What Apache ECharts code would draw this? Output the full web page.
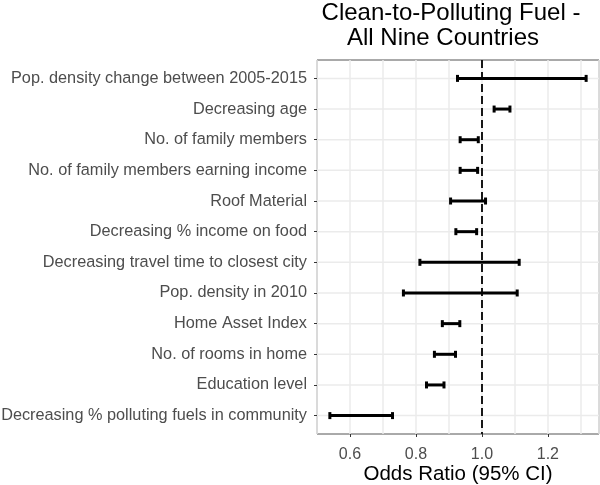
<!DOCTYPE html>
<html>
<head>
<meta charset="utf-8">
<script src="https://cdn.jsdelivr.net/npm/echarts@6/dist/echarts.min.js"></script>
<style>html,body{margin:0;padding:0;background:#fff;}#c{width:600px;height:485px;}</style>
</head>
<body>
<div id="c"></div>
<script>
var categories = [
  "Pop. density change between 2005-2015",
  "Decreasing age",
  "No. of family members",
  "No. of family members earning income",
  "Roof Material",
  "Decreasing % income on food",
  "Decreasing travel time to closest city",
  "Pop. density in 2010",
  "Home Asset Index",
  "No. of rooms in home",
  "Education level",
  "Decreasing % polluting fuels in community"
];
var lowerCI = [0.926, 1.037, 0.934, 0.934, 0.905, 0.921, 0.812, 0.762, 0.880, 0.856, 0.832, 0.539];
var upperCI = [1.316, 1.085, 0.989, 0.987, 1.011, 0.984, 1.113, 1.107, 0.933, 0.920, 0.885, 0.729];
var xTicks = [0.6, 0.8, 1.0, 1.2];
var referenceLine = 1.0;
var titleLine1 = "Clean-to-Polluting Fuel -";
var titleLine2 = "All Nine Countries";
var xAxisTitle = "Odds Ratio (95% CI)";

var rowIdx = categories.map(function (c, i) { return i; });
var data = categories.map(function (c, i) { return [i, lowerCI[i], upperCI[i]]; });

var chart = echarts.init(document.getElementById('c'), null, {renderer: 'canvas'});
var FONT = 'Liberation Sans, Arial, Helvetica, sans-serif';
var tStyle = {fontFamily: FONT, fontSize: 24, fontWeight: 'normal', color: '#000', lineHeight: 25};
var X_MIN = 0.5, X_MAX = 1.355;
chart.setOption({
  animation: false,
  title: [
    {text: titleLine1, left: 451, top: 1, textAlign: 'center', textStyle: tStyle, padding: 0},
    {text: titleLine2, left: 443, top: 26, textAlign: 'center', textStyle: tStyle, padding: 0}
  ],
  grid: {left: 317, right: 1, top: 60, bottom: 51, show: true, borderColor: '#555', borderWidth: 1,
    backgroundColor: '#fff', containLabel: false, outerBoundsMode: 'none'},
  xAxis: [{
    type: 'value', min: X_MIN, max: X_MAX, interval: 0.1,
    axisLine: {show: false}, axisTick: {show: false}, axisLabel: {show: false},
    splitLine: {show: true, lineStyle: {color: '#ebebeb', width: 1.5}}
  }, {
    type: 'value', min: X_MIN, max: X_MAX, position: 'bottom',
    name: xAxisTitle, nameLocation: 'middle', nameGap: 30, nameMoveOverlap: false,
    nameTextStyle: {fontFamily: FONT, fontSize: 20.5, color: '#000'},
    axisLine: {show: false},
    axisTick: {show: true, length: 3, lineStyle: {color: '#333'}, customValues: xTicks},
    axisLabel: {fontFamily: FONT, fontSize: 16, color: '#4d4d4d', margin: 13, customValues: xTicks,
      formatter: function (v) { return v.toFixed(1); }},
    splitLine: {show: false}
  }],
  yAxis: {
    type: 'value', min: -0.6, max: 11.6, inverse: true,
    axisLine: {show: false},
    axisTick: {show: true, length: 3, lineStyle: {color: '#333'}, customValues: rowIdx},
    axisLabel: {fontFamily: FONT, fontSize: 16.3, color: '#4d4d4d', margin: 10, customValues: rowIdx,
      formatter: function (v) { return categories[Math.round(v)]; }},
    splitLine: {show: false}
  },
  series: [{
    type: 'custom',
    xAxisIndex: 0,
    data: data,
    encode: {y: 0, x: [1, 2]},
    renderItem: function (params, api) {
      var y = api.value(0);
      var p1 = api.coord([api.value(1), y]);
      var p2 = api.coord([api.value(2), y]);
      var h = 3.5;
      var st = {stroke: '#000', lineWidth: 3};
      return {
        type: 'group',
        children: [
          {type: 'line', shape: {x1: p1[0], y1: p1[1], x2: p2[0], y2: p2[1]}, style: st},
          {type: 'line', shape: {x1: p1[0], y1: p1[1] - h, x2: p1[0], y2: p1[1] + h}, style: st},
          {type: 'line', shape: {x1: p2[0], y1: p2[1] - h, x2: p2[0], y2: p2[1] + h}, style: st}
        ]
      };
    },
    markLine: {
      silent: true, symbol: 'none', label: {show: false},
      lineStyle: {color: '#000', type: [8, 4], width: 1.8},
      data: [{xAxis: referenceLine}]
    },
    z: 3
  }, {
    type: 'custom',
    xAxisIndex: 0,
    data: rowIdx,
    encode: {y: 0},
    renderItem: function (params, api) {
      var y = api.value(0);
      var a = api.coord([X_MIN, y]);
      var b = api.coord([X_MAX, y]);
      return {type: 'line', shape: {x1: a[0], y1: a[1], x2: b[0], y2: b[1]}, style: {stroke: '#ebebeb', lineWidth: 1.5}};
    },
    z: 1, silent: true
  }]
});
</script>
</body>
</html>
